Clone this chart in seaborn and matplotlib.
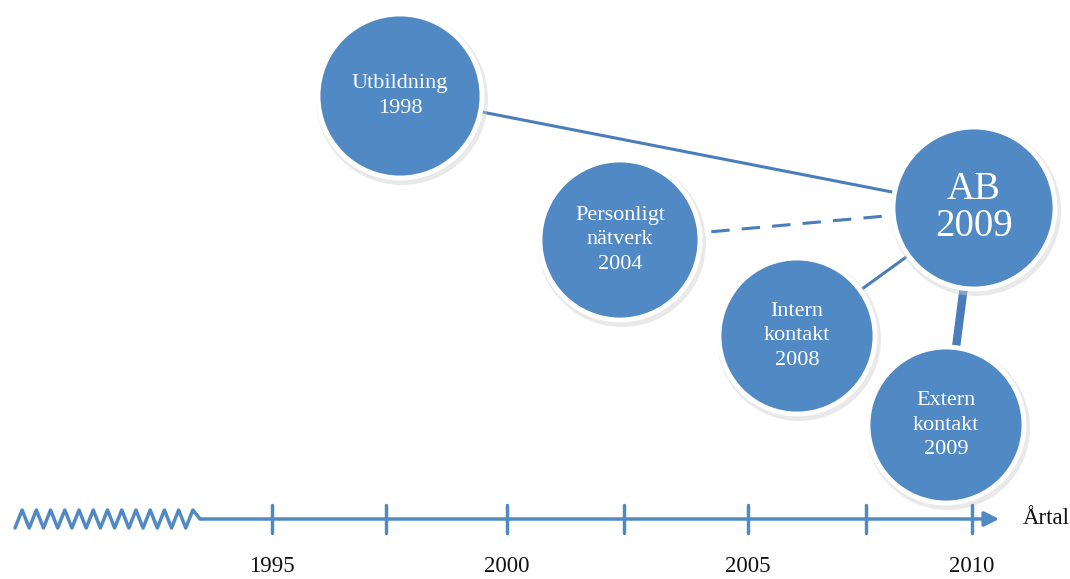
import numpy as np
import matplotlib.pyplot as plt
import seaborn as sns
from matplotlib.patches import Circle

# nodes of the diagram (centre in pixel space of the 1070x579 canvas)
labels = ["Utbildning\n1998", "Personligt\nnätverk\n2004", "Intern\nkontakt\n2008",
          "Extern\nkontakt\n2009", "AB\n2009"]
node_x = [400, 620, 797, 946, 974]
node_y = [96, 240, 336, 425, 208]
node_r = [82, 80, 78, 78, 81]
label_size = [16, 16, 16, 16, 28]

# connections to the AB node: (from index, style, width)
links = [(0, "-", 2.2), (1, "--", 2.2), (2, "-", 2.2), (3, "-", 6)]

# timeline
tick_x = [272, 386, 507, 624, 748, 866, 972]
year_labels = ["1995", "", "2000", "", "2005", "", "2010"]
axis_y = 519

blue = "#5189c5"
line_blue = "#4a7dbb"

sns.set_theme(style="white")
plt.rcParams["font.family"] = ["Liberation Serif", "DejaVu Serif"]

fig = plt.figure(figsize=(10.7, 5.79), dpi=100)
ax = fig.add_axes([0, 0, 1, 1])
ax.set_xlim(0, 1070)
ax.set_ylim(579, 0)
ax.set_axis_off()

# connector lines
hub = len(labels) - 1
for i, ls, lw in links:
    ax.plot([node_x[i], node_x[hub]], [node_y[i], node_y[hub]],
            ls=ls, lw=lw, color=line_blue, zorder=1, dashes=(6, 4) if ls == "--" else (None, None))

# circles with soft shadow
for x, y, r, lab, fs in zip(node_x, node_y, node_r, labels, label_size):
    ax.add_patch(Circle((x + 2, y + 3), r + 4, color="#d0d0d0", alpha=0.45, zorder=2, lw=0))
    ax.add_patch(Circle((x, y), r, facecolor=blue, edgecolor="white", lw=3.5, zorder=3))
    ax.text(x, y, lab, ha="center", va="center", color="white", fontsize=fs,
            linespacing=1.4 if fs < 20 else 1.0, zorder=4)

# zigzag start of the axis
n_peaks = 13
zz_x = np.linspace(15, 200, 2 * n_peaks + 1)
zz_y = axis_y + np.where(np.arange(len(zz_x)) % 2 == 0, 9, -9)
zz_y[-1] = axis_y
ax.plot(zz_x, zz_y, color=blue, lw=2.5, solid_joinstyle="round", zorder=1)

# main axis with arrow
ax.annotate("", xy=(1002, axis_y), xytext=(198, axis_y),
            arrowprops=dict(arrowstyle="-|>", color=blue, lw=2.5, mutation_scale=22))
for tx, lab in zip(tick_x, year_labels):
    ax.plot([tx, tx], [axis_y - 14, axis_y + 14], color=blue, lw=2.5)
    if lab:
        ax.text(tx, 566, lab, ha="center", va="center", fontsize=16.5, color="#111111")
ax.text(1046, 519, "Årtal", ha="center", va="center", fontsize=16.5, color="#111111")

fig.savefig("out.png", dpi=100, facecolor="white")
